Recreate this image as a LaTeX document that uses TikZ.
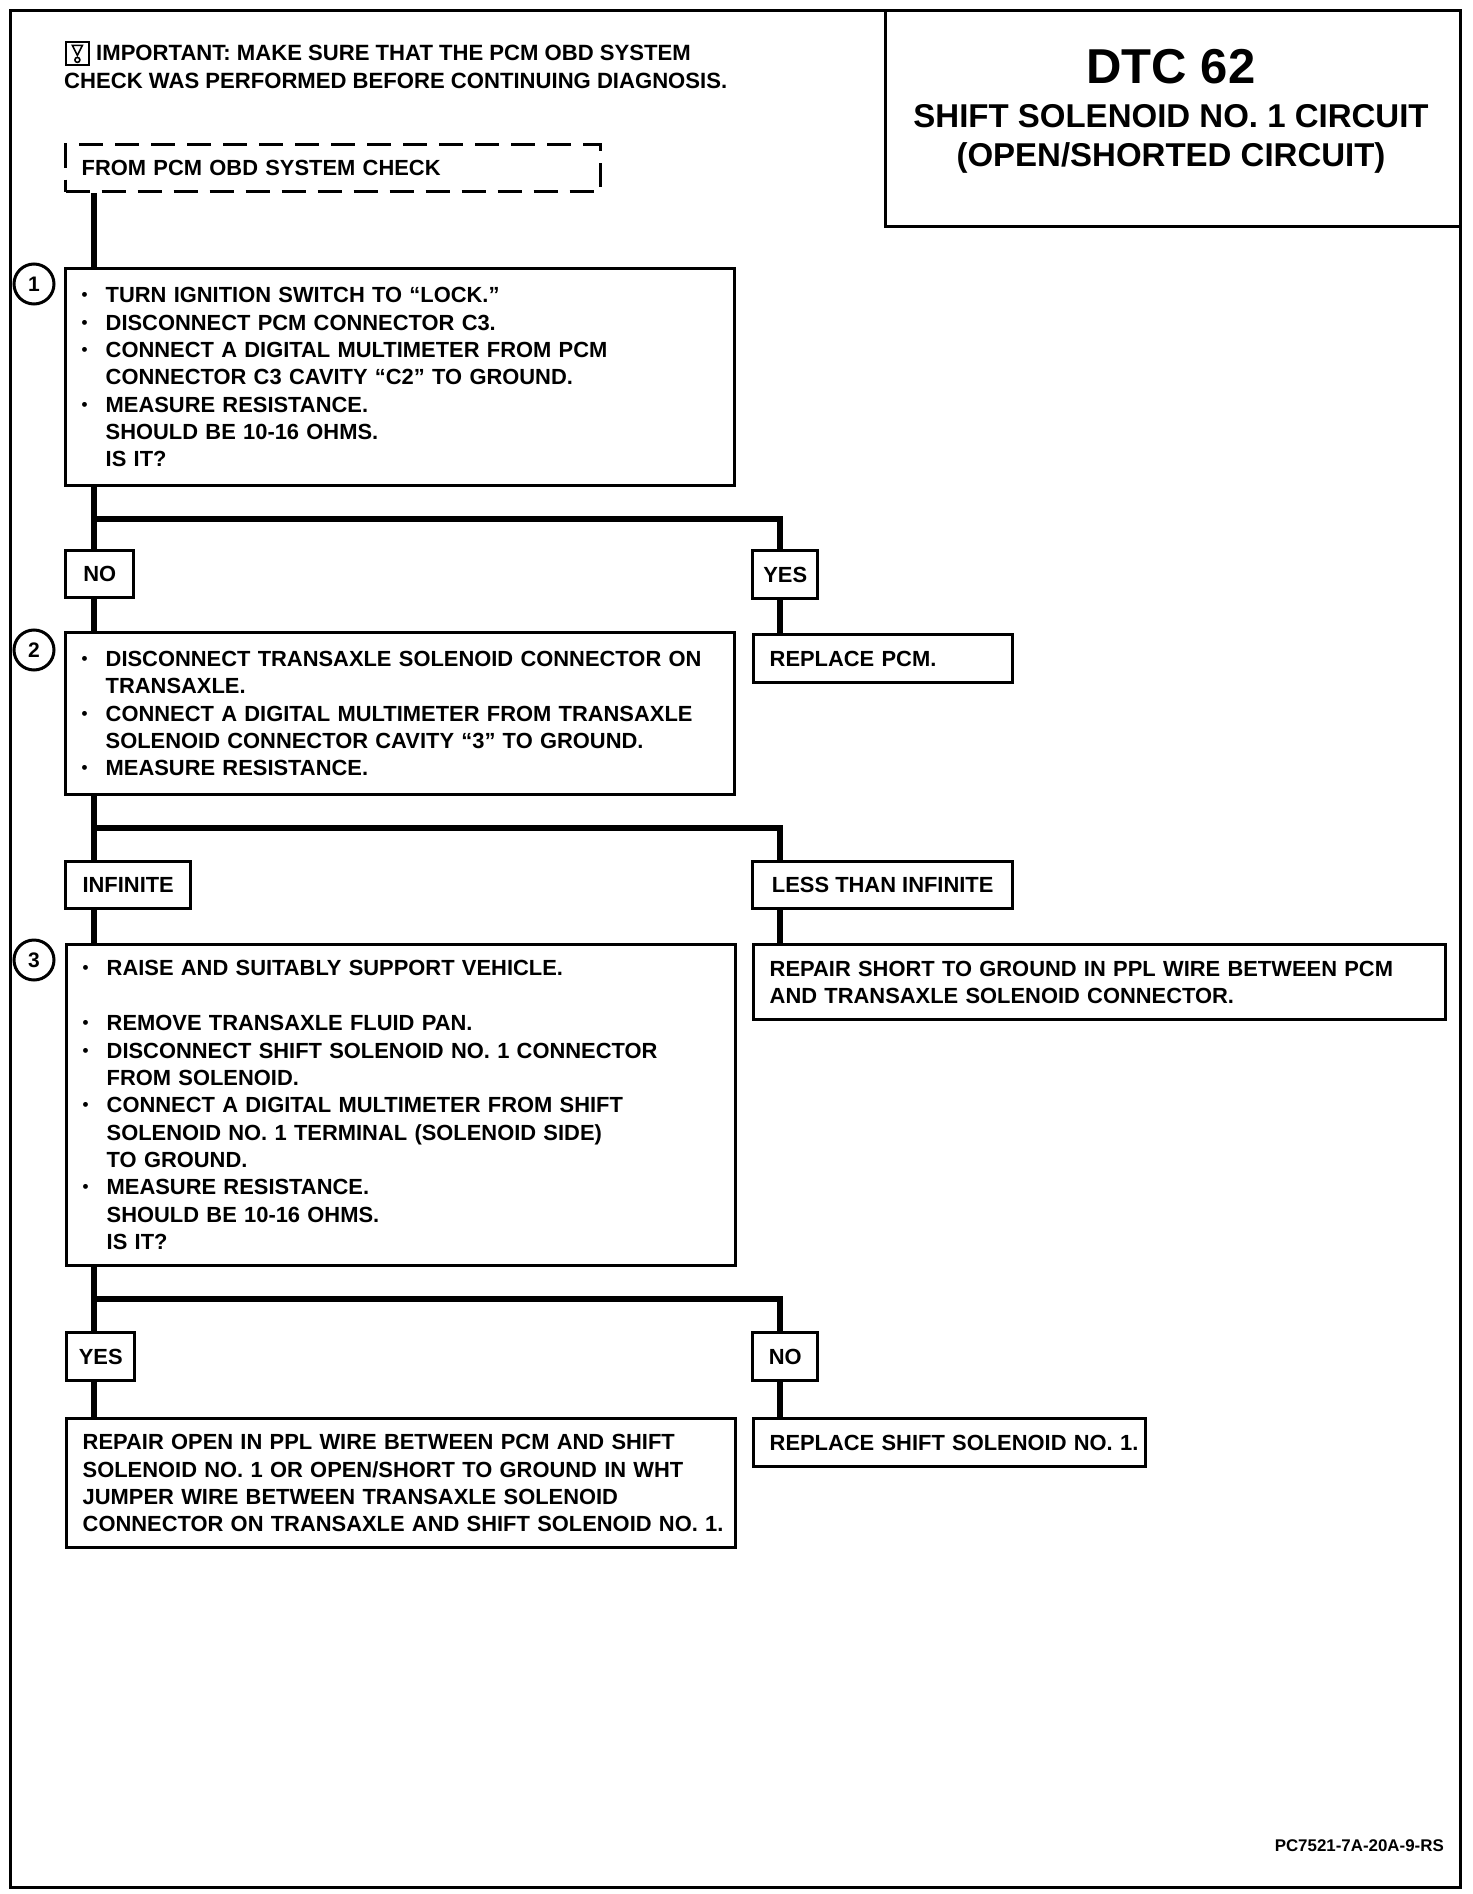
\documentclass[tikz,border=0pt]{standalone}
\usepackage{fontspec}
\setmainfont{Liberation Sans}
\usepackage{tikz}
\usetikzlibrary{positioning}
\newcommand{\itm}{\makebox[24pt][l]{\raisebox{2pt}{\fontsize{17}{17}\selectfont\textbullet}}}
\newcommand{\ind}{\hspace*{24pt}}

\begin{document}
\begin{tikzpicture}[x=1pt,y=-1pt,font=\bfseries\fontsize{21.9}{27.35}\selectfont,
  pane/.style={rectangle,draw=black,line width=3.4pt,anchor=north west,align=left,inner xsep=16pt,inner ysep=0pt},
  tag/.style={rectangle,draw=black,line width=3.4pt,anchor=north west,inner sep=0pt},
  stepnum/.style={circle,draw=black,line width=3pt,inner sep=0pt,minimum size=40pt,font=\bfseries\fontsize{21}{21}\selectfont},
  trunk/.style={draw=black,line width=5.5pt},
  plain/.style={inner sep=0pt}]
\useasboundingbox (0,0) rectangle (1472,1894);
\node[rectangle,draw=black,line width=3.4pt,minimum width=1450pt,minimum height=1877pt,anchor=north west,inner sep=0pt] (sheet) at (9,9) {};
\node[rectangle,draw=black,line width=3.4pt,minimum width=575pt,minimum height=216pt,anchor=north west,inner sep=0pt] (titlebox) at (884,9) {};
\node[plain,font=\bfseries\fontsize{49}{49}\selectfont] (dtc) at (1171,67) {DTC 62};
\node[plain,align=center,font=\bfseries\fontsize{33}{38.5}\selectfont] (subtitle) at (1171,139) {SHIFT SOLENOID NO. 1 CIRCUIT\\(OPEN/SHORTED CIRCUIT)};
% note at the top
\node[rectangle,draw=black,line width=1.8pt,minimum width=23pt,minimum height=23pt,anchor=north west,inner sep=0pt] (notekey) at (65,41) {};
\draw[line width=1.6pt] ([xshift=-5pt,yshift=8pt]notekey.center) -- ++(10pt,0) -- ([yshift=-2pt]notekey.center) -- cycle;
\draw[line width=1.6pt] ([yshift=-6.5pt]notekey.center) circle (2.5pt);
\node[plain,anchor=north west,align=left,font=\bfseries\fontsize{22.1}{27.8}\selectfont] (note) at (64,45) {\hspace*{32pt}IMPORTANT: MAKE SURE THAT THE PCM OBD SYSTEM\\CHECK WAS PERFORMED BEFORE CONTINUING DIAGNOSIS.};
\node[pane,dashed,dash pattern=on 24pt off 12pt,text width=503pt,minimum height=47pt] (start) at (64,143) {FROM PCM OBD SYSTEM CHECK};
% first step
\node[pane,text width=637pt,minimum height=217pt] (check1) at (64,267) {\itm TURN IGNITION SWITCH TO “LOCK.”\\
\itm DISCONNECT PCM CONNECTOR C3.\\
\itm CONNECT A DIGITAL MULTIMETER FROM PCM\\
\ind CONNECTOR C3 CAVITY “C2” TO GROUND.\\
\itm MEASURE RESISTANCE.\\
\ind SHOULD BE 10-16 OHMS.\\
\ind IS IT?};
\node[stepnum] (num1) at (34,284) {1};
\node[tag,minimum width=68pt,minimum height=47pt] (no1) at (64,549) {NO};
\node[tag,minimum width=65pt,minimum height=48pt] (yes1) at (751,549) {YES};
\node[pane,text width=227pt,minimum height=48pt] (pcm) at (752,633) {REPLACE PCM.};
% second step
\node[pane,text width=637pt,minimum height=162pt] (check2) at (64,631) {\itm DISCONNECT TRANSAXLE SOLENOID CONNECTOR ON\\
\ind TRANSAXLE.\\
\itm CONNECT A DIGITAL MULTIMETER FROM TRANSAXLE\\
\ind SOLENOID CONNECTOR CAVITY “3” TO GROUND.\\
\itm MEASURE RESISTANCE.};
\node[stepnum] (num2) at (34,650) {2};
\node[tag,minimum width=125pt,minimum height=47pt] (infinite) at (64,860) {INFINITE};
\node[tag,minimum width=260pt,minimum height=47pt] (less) at (751,860) {LESS THAN INFINITE};
\node[pane,text width=660pt,minimum height=75pt] (short) at (752,943) {REPAIR SHORT TO GROUND IN PPL WIRE BETWEEN PCM\\AND TRANSAXLE SOLENOID CONNECTOR.};
% third step
\node[pane,text width=637pt,minimum height=321pt] (check3) at (65,943) {\itm RAISE AND SUITABLY SUPPORT VEHICLE.\\[27.35pt]
\itm REMOVE TRANSAXLE FLUID PAN.\\
\itm DISCONNECT SHIFT SOLENOID NO. 1 CONNECTOR\\
\ind FROM SOLENOID.\\
\itm CONNECT A DIGITAL MULTIMETER FROM SHIFT\\
\ind SOLENOID NO. 1 TERMINAL (SOLENOID SIDE)\\
\ind TO GROUND.\\
\itm MEASURE RESISTANCE.\\
\ind SHOULD BE 10-16 OHMS.\\
\ind IS IT?};
\node[stepnum] (num3) at (34,960) {3};
\node[tag,minimum width=68pt,minimum height=48pt] (yes3) at (65,1331) {YES};
\node[tag,minimum width=65pt,minimum height=48pt] (no3) at (751,1331) {NO};
\node[pane,text width=637pt,minimum height=129pt] (wire) at (65,1417) {REPAIR OPEN IN PPL WIRE BETWEEN PCM AND SHIFT\\
SOLENOID NO. 1 OR OPEN/SHORT TO GROUND IN WHT\\
JUMPER WIRE BETWEEN TRANSAXLE SOLENOID\\
\mbox{CONNECTOR ON TRANSAXLE AND SHIFT SOLENOID NO. 1.}};
\node[pane,text width=360pt,minimum height=48pt] (solenoid) at (752,1417) {\mbox{REPLACE SHIFT SOLENOID NO. 1.}};
\node[plain,anchor=east,font=\bfseries\fontsize{16.9}{17}\selectfont] (partno) at (1444,1846) {PC7521-7A-20A-9-RS};
% splits
\coordinate (split1) at (94,519);
\coordinate (side1) at (780,519);
\coordinate (split2) at (94,828);
\coordinate (side2) at (780,828);
\coordinate (split3) at (94,1299);
\coordinate (side3) at (780,1299);
\draw[trunk] (start.south -| split1) -- (check1.north -| split1);
\draw[trunk] (check1.south -| split1) -- (no1.north -| split1);
\draw[trunk] (split1) -- (side1) -- (yes1.north -| side1);
\draw[trunk] (no1.south -| split1) -- (check2.north -| split1);
\draw[trunk] (yes1.south -| side1) -- (pcm.north -| side1);
\draw[trunk] (check2.south -| split2) -- (infinite.north -| split2);
\draw[trunk] (split2) -- (side2) -- (less.north -| side2);
\draw[trunk] (infinite.south -| split2) -- (check3.north -| split2);
\draw[trunk] (less.south -| side2) -- (short.north -| side2);
\draw[trunk] (check3.south -| split3) -- (yes3.north -| split3);
\draw[trunk] (split3) -- (side3) -- (no3.north -| side3);
\draw[trunk] (yes3.south -| split3) -- (wire.north -| split3);
\draw[trunk] (no3.south -| side3) -- (solenoid.north -| side3);
\end{tikzpicture}
\end{document}
